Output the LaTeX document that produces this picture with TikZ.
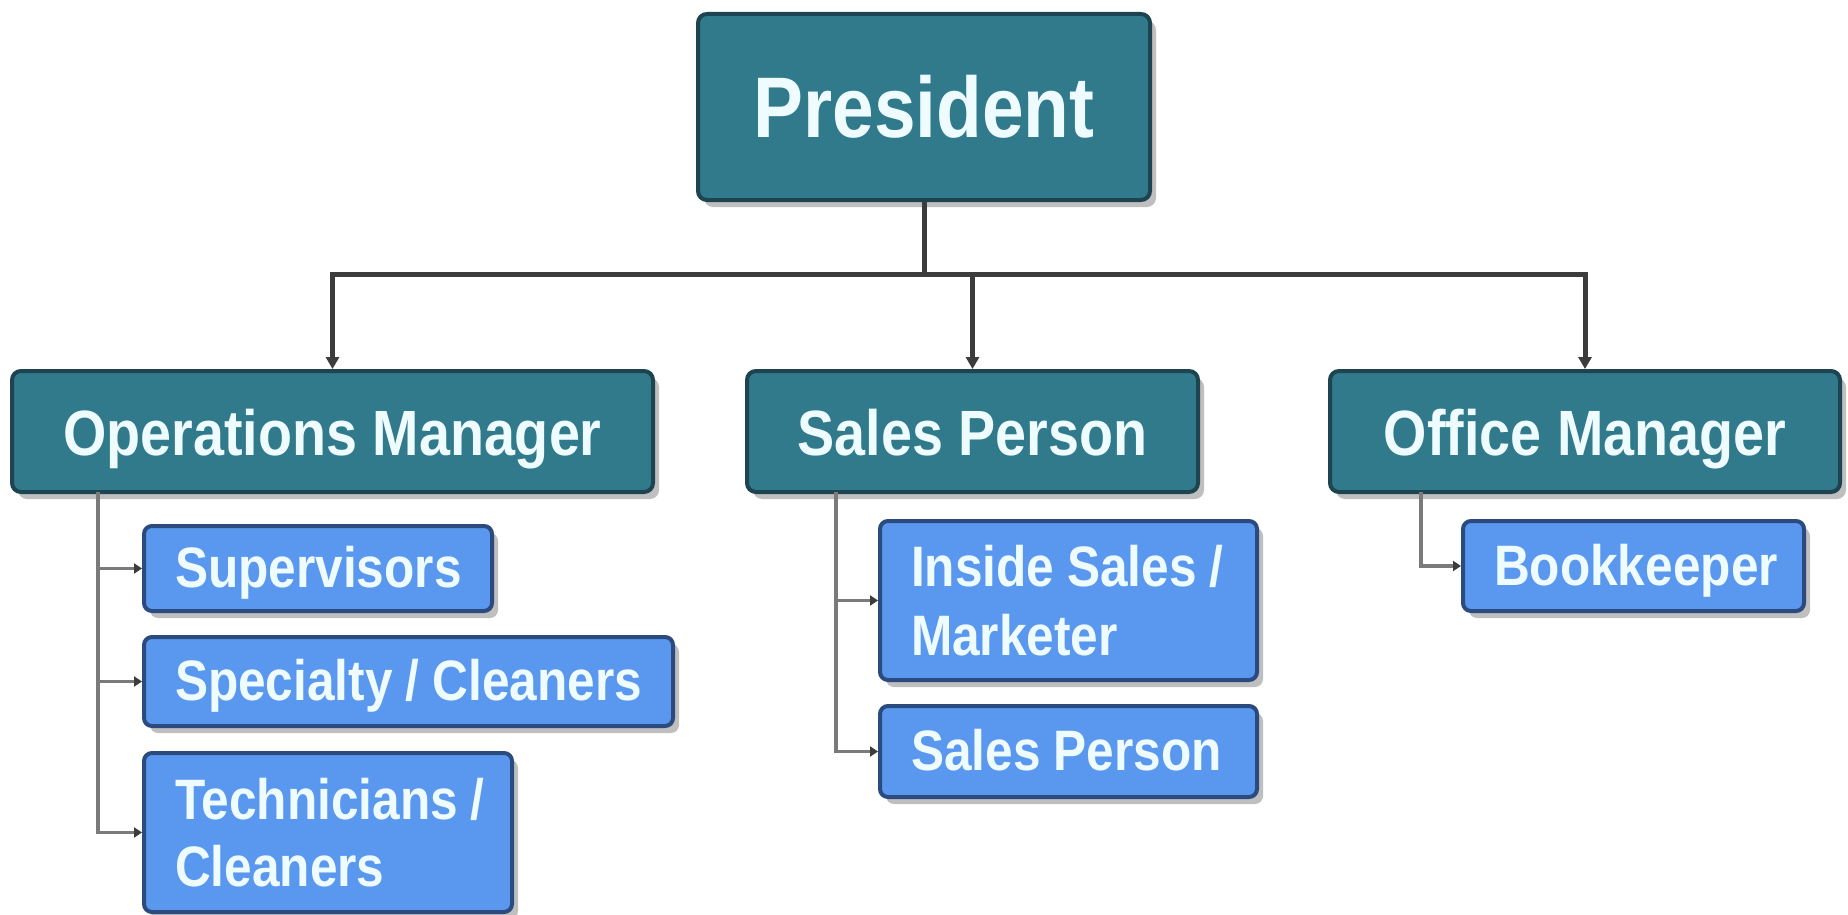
\documentclass[tikz,border=0pt]{standalone}
\usepackage{fontspec}
\newfontfamily\boxfont[FakeStretch=0.87]{Liberation Sans}
\usetikzlibrary{shadows,arrows.meta}
\newcommand\wsp{\hspace{13pt}}
\definecolor{tealfill}{HTML}{307A8C}
\definecolor{tealdraw}{HTML}{1D4450}
\definecolor{bluefill}{HTML}{5A98EF}
\definecolor{bluedraw}{HTML}{2B4A7E}
\definecolor{txtc}{HTML}{EEFBFF}
\definecolor{mainline}{HTML}{3C3C3C}
\definecolor{subline}{HTML}{7A7A7A}
\tikzset{
  boxshadow/.style={drop shadow={shadow xshift=6pt, shadow yshift=-7pt, fill=black!55, opacity=0.45}},
  topbox/.style={draw=tealdraw, fill=tealfill, line width=4pt, rounded corners=9pt,
    text=txtc, font=\boxfont\bfseries\fontsize{86}{90}\selectfont, boxshadow, inner sep=0pt},
  midbox/.style={draw=tealdraw, fill=tealfill, line width=4pt, rounded corners=9pt,
    text=txtc, font=\boxfont\bfseries\fontsize{64}{70}\selectfont, boxshadow, inner sep=0pt,
    minimum height=121pt, text height=57pt, text depth=9pt},
  subbox/.style={draw=bluedraw, fill=bluefill, line width=4pt, rounded corners=8pt,
    text=txtc, font=\boxfont\bfseries\fontsize{57}{67}\selectfont, boxshadow,
    align=left, inner xsep=31pt, inner ysep=0pt},
  oneline/.style={text height=46pt, text depth=8pt},
  mainconn/.style={draw=mainline, line width=5pt},
  mainarrow/.style={mainconn, -{Triangle[length=12pt,width=13pt]}},
  subarrow/.style={draw=subline, line width=3.5pt, -{Triangle[length=8pt,width=10pt,color=mainline,fill=mainline]}}
}
\begin{document}
\begin{tikzpicture}[x=1pt,y=-1pt]
\useasboundingbox[fill=white] (0,0) rectangle (1848,915);

% top
\node[topbox, minimum width=452pt, minimum height=186pt] (pres) at (924,107) {President};

% middle
\node[midbox, minimum width=641pt] (ops) at (332.5,431.5) {Operations Manager};
\node[midbox, minimum width=451pt] (sales) at (972.5,431.5) {Sales Person};
\node[midbox, minimum width=510pt] (office) at (1585,431.5) {Office Manager};

% sub: operations
\node[subbox, oneline, minimum width=348pt, minimum height=85pt, text width=286pt] (sup) at (318,568.5) {\mbox{Supervisors}};
\node[subbox, oneline, minimum width=529pt, minimum height=89pt, text width=467pt] (spec) at (408.5,681.5) {\mbox{Specialty\wsp/\wsp Cleaners}};
\node[subbox, minimum width=368pt, minimum height=159pt, text width=306pt] (tech) at (328,832.5) {\mbox{Technicians\wsp/}\\\mbox{Cleaners}};

% sub: sales
\node[subbox, minimum width=377pt, minimum height=159pt, text width=315pt] (inside) at (1068.5,600.5) {\mbox{Inside\wsp Sales\wsp/}\\[2pt]\mbox{Marketer}};
\node[subbox, oneline, minimum width=377pt, minimum height=91pt, text width=315pt] (salesp) at (1068.5,751.5) {\mbox{Sales\wsp Person}};

% sub: office
\node[subbox, oneline, minimum width=341pt, minimum height=90pt, text width=279pt] (book) at (1633.5,566) {\mbox{Bookkeeper}};

% main connectors
\coordinate (bus) at (924,274);
\draw[mainconn] (pres.south) -- (bus);
\draw[mainarrow] (bus) -| (ops.north);
\draw[mainarrow] (bus) -| (sales.north);
\draw[mainarrow] (bus) -| (office.north);

% sub connectors
\coordinate (opsdrop) at (98,492);
\coordinate (salesdrop) at (836,492);
\coordinate (officedrop) at (1421,492);
\draw[subarrow] (opsdrop) |- (sup.west);
\draw[subarrow] (opsdrop) |- (spec.west);
\draw[subarrow] (opsdrop) |- (tech.west);
\draw[subarrow] (salesdrop) |- (inside.west);
\draw[subarrow] (salesdrop) |- (salesp.west);
\draw[subarrow] (officedrop) |- (book.west);
\end{tikzpicture}
\end{document}
